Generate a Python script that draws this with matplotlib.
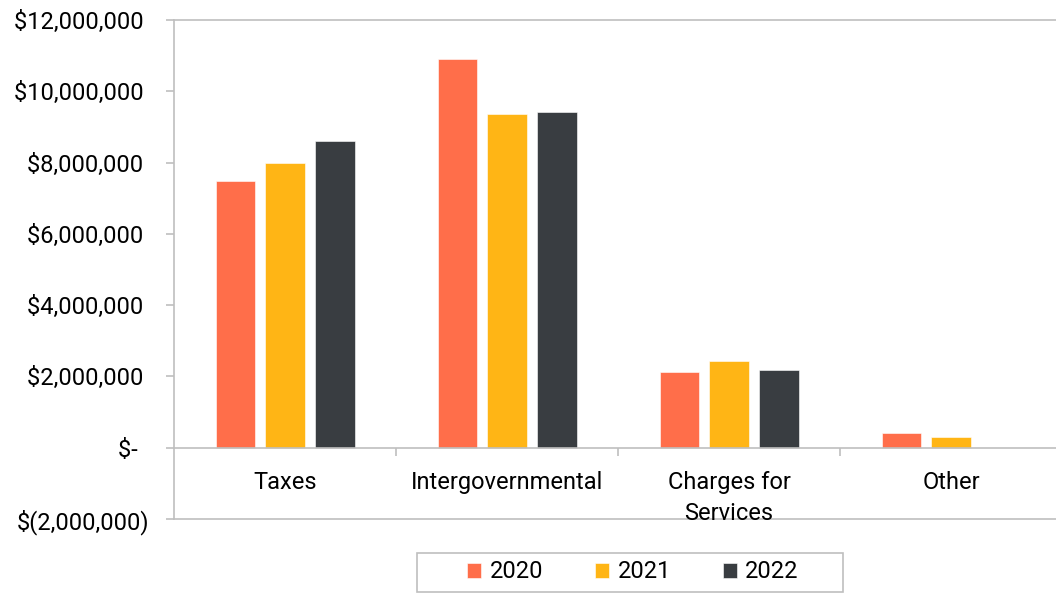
import matplotlib.pyplot as plt
import matplotlib.ticker as mticker
from matplotlib.patches import Rectangle
import numpy as np

plt.rcParams['font.family'] = ['Roboto', 'DejaVu Sans']

categories = ['Taxes', 'Intergovernmental', 'Charges for\nServices', 'Other']
years = ['2020', '2021', '2022']
vals_2020 = [7480000, 10910000, 2120000, 410000]
vals_2021 = [7990000, 9360000, 2430000, 300000]
vals_2022 = [8600000, 9420000, 2170000, -20000]
colors = ['#FF6E4A', '#FFB515', '#393D41']

y_ticks = [-2000000, 0, 2000000, 4000000, 6000000, 8000000, 10000000, 12000000]

grey = '#BFBFBF'
fs = 17


def money(v, pos=None):
  # accounting style labels
  if v == 0:
    return '$-  '
  if v < 0:
    return '$({:,.0f})'.format(-v)
  return '${:,.0f} '.format(v)


fig = plt.figure(figsize=(10.56, 5.93), dpi=100)
ax = fig.add_axes([0.1648, 0.1248, 0.8409, 0.8415])

x = np.arange(len(categories))
width = 0.176
step = 0.225
series = [vals_2020, vals_2021, vals_2022]
for i, (vals, col, yr) in enumerate(zip(series, colors, years)):
  ax.bar(x + (i - 1) * step, vals, width, color=col, label=yr,
         edgecolor='white', linewidth=0.4, zorder=2)

ax.set_xlim(-0.5, len(categories) - 0.5)
ax.set_ylim(-2000000, 12000000)
ax.set_yticks(y_ticks)
ax.yaxis.set_major_formatter(mticker.FuncFormatter(money))
ax.tick_params(axis='y', length=6, width=1.2, color=grey, pad=12, labelsize=fs)

# x axis sits on zero
ax.spines['bottom'].set_position(('data', 0))
ax.spines['right'].set_visible(False)
for s in ['bottom', 'top', 'left']:
  ax.spines[s].set_color(grey)
  ax.spines[s].set_linewidth(1.2)
ax.axhline(-2000000, color=grey, linewidth=1.2, clip_on=False, zorder=1)

ax.set_xticks(x)
ax.set_xticklabels(categories, fontsize=fs, linespacing=1.42, va='top')
ax.tick_params(axis='x', length=0, pad=17)
ax.set_xticks(np.arange(len(categories) - 1) + 0.5, minor=True)
ax.tick_params(axis='x', which='minor', length=6, width=1.2, color=grey)

# legend box drawn separately to match its wide frame
fig.patches.append(Rectangle((417 / 1056, 1 / 593), 426 / 1056, 39 / 593,
                             transform=fig.transFigure, fill=False,
                             edgecolor=grey, linewidth=1.2))
ax.legend(loc='center', bbox_to_anchor=(633 / 1056, 21 / 593),
          bbox_transform=fig.transFigure, ncol=3, fontsize=fs,
          frameon=False, handlelength=0.6, handleheight=0.6,
          handletextpad=0.35, columnspacing=2.2, borderpad=0,
          borderaxespad=0)

fig.savefig('out.png', dpi=100)
